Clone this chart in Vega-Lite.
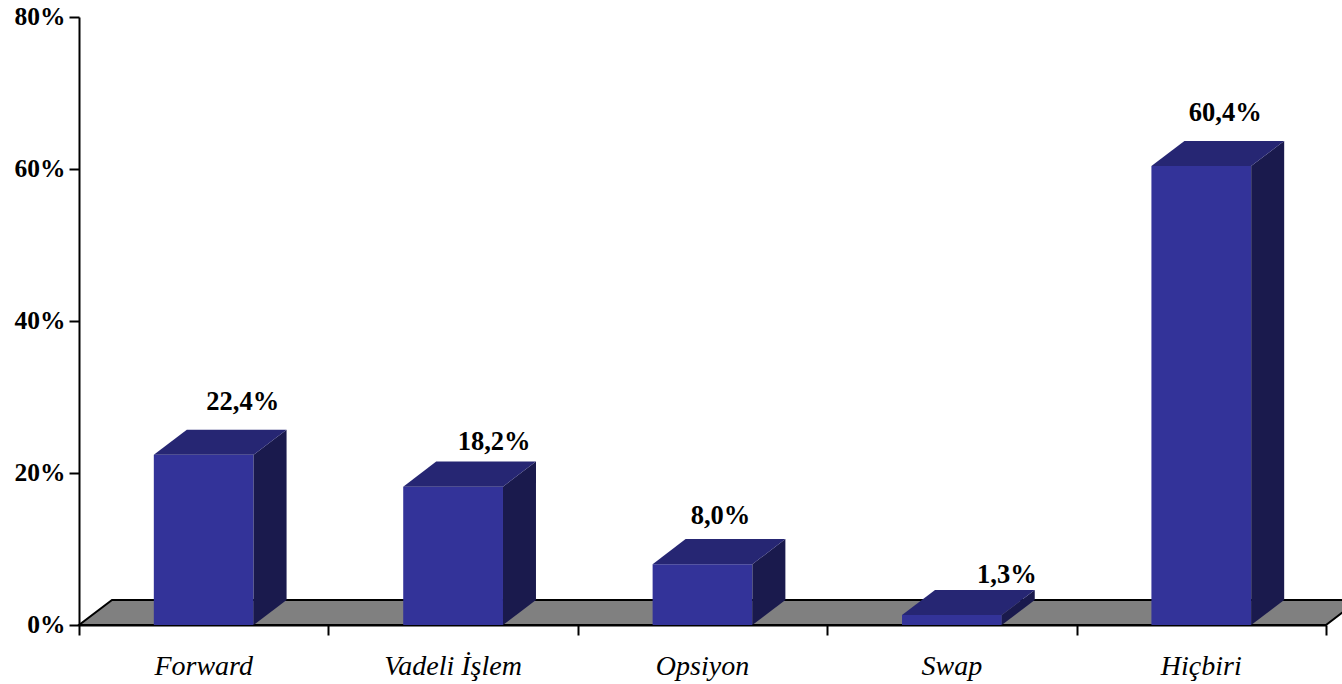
{
  "$schema": "https://vega.github.io/schema/vega-lite/v6.json",
  "autosize": "none",
  "padding": {"left": 79, "top": 17, "right": 16, "bottom": 59},
  "width": 1247,
  "height": 608,
  "background": "white",
  "datasets": {
    "bars": [
      {"category": "Forward", "value": 22.4},
      {"category": "Vadeli İşlem", "value": 18.2},
      {"category": "Opsiyon", "value": 8.0},
      {"category": "Swap", "value": 1.3},
      {"category": "Hiçbiri", "value": 60.4}
    ],
    "floor": [{"corner": 0}, {"corner": 1}, {"corner": 2}, {"corner": 3}]
  },
  "config": {"view": {"stroke": null}},
  "resolve": {"scale": {"x": "independent"}},
  "encoding": {
    "y": {
      "type": "quantitative",
      "scale": {"domain": [0, 80], "nice": false},
      "axis": {
        "title": null,
        "values": [0, 20, 40, 60, 80],
        "labelExpr": "datum.value + '%'",
        "grid": false,
        "domainColor": "black",
        "domainWidth": 2,
        "tickColor": "black",
        "tickWidth": 2,
        "tickSize": 10,
        "labelColor": "black",
        "labelFont": "Liberation Serif",
        "labelFontWeight": "bold",
        "labelFontSize": 25.5,
        "labelPadding": 4,
        "labelOffset": -1,
        "labelBound": false,
        "labelFlush": false
      }
    }
  },
  "layer": [
    {
      "data": {"name": "floor"},
      "transform": [
        {"calculate": "[0, 0.1323, 5, 5.1323][datum.corner]", "as": "px"},
        {"calculate": "datum.corner == 3 ? 3.3 : 0", "as": "low"},
        {"calculate": "datum.corner == 0 ? 0 : 3.3", "as": "high"}
      ],
      "mark": {"type": "area", "color": "#808080", "stroke": "black", "strokeWidth": 2, "clip": false},
      "encoding": {
        "x": {
          "field": "px",
          "type": "quantitative",
          "scale": {"domain": [0, 5], "nice": false, "zero": false},
          "axis": {
            "orient": "bottom",
            "title": null,
            "values": [0, 1, 2, 3, 4, 5],
            "labels": false,
            "grid": false,
            "domainColor": "black",
            "domainWidth": 2,
            "tickColor": "black",
            "tickWidth": 2,
            "tickSize": 10
          }
        },
        "y": {"field": "low", "type": "quantitative"},
        "y2": {"field": "high"}
      }
    },
    {
      "data": {"name": "bars"},
      "mark": {"type": "bar", "color": "#333399"},
      "encoding": {
        "x": {
          "field": "category",
          "type": "nominal",
          "sort": null,
          "scale": {"paddingInner": 0.6, "paddingOuter": 0.3},
          "axis": {
            "orient": "bottom",
            "title": null,
            "ticks": false,
            "domain": false,
            "labelAngle": 0,
            "labelColor": "black",
            "labelFont": "Liberation Serif",
            "labelFontStyle": "italic",
            "labelFontSize": 28,
            "labelPadding": 27
          }
        },
        "y": {"field": "value", "type": "quantitative"}
      }
    },
    {
      "data": {"name": "bars"},
      "transform": [
        {"calculate": "indexof(['Forward','Vadeli İşlem','Opsiyon','Swap','Hiçbiri'], datum.category)", "as": "i"},
        {"calculate": "[0, 1]", "as": "t"},
        {"flatten": ["t"]},
        {"calculate": "datum.i + 0.7 + datum.t * 0.1323", "as": "px"},
        {"calculate": "datum.t * 3.3", "as": "low"},
        {"calculate": "datum.value + datum.t * 3.3", "as": "high"}
      ],
      "mark": {"type": "area", "color": "#1a1a4d", "clip": false},
      "encoding": {
        "x": {"field": "px", "type": "quantitative", "scale": {"domain": [0, 5], "nice": false, "zero": false}, "axis": null},
        "y": {"field": "low", "type": "quantitative"},
        "y2": {"field": "high"},
        "detail": {"field": "category"}
      }
    },
    {
      "data": {"name": "bars"},
      "transform": [
        {"calculate": "indexof(['Forward','Vadeli İşlem','Opsiyon','Swap','Hiçbiri'], datum.category)", "as": "i"},
        {"calculate": "[0, 1, 2, 3]", "as": "c"},
        {"flatten": ["c"]},
        {"calculate": "datum.i + [0.3, 0.4323, 0.7, 0.8323][datum.c]", "as": "px"},
        {"calculate": "datum.value + (datum.c == 3 ? 3.3 : 0)", "as": "low"},
        {"calculate": "datum.value + (datum.c == 0 ? 0 : 3.3)", "as": "high"}
      ],
      "mark": {"type": "area", "color": "#262673", "clip": false},
      "encoding": {
        "x": {"field": "px", "type": "quantitative", "scale": {"domain": [0, 5], "nice": false, "zero": false}, "axis": null},
        "y": {"field": "low", "type": "quantitative"},
        "y2": {"field": "high"},
        "detail": {"field": "category"}
      }
    },
    {
      "data": {"name": "bars"},
      "transform": [
        {"filter": "datum.category == 'Forward'"},
        {"calculate": "replace(format(datum.value, '.1f'), '.', ',') + '%'", "as": "label"}
      ],
      "mark": {"type": "text", "font": "Liberation Serif", "fontWeight": "bold", "fontSize": 26.5, "color": "black", "dx": 39, "dy": -53},
      "encoding": {
        "x": {"field": "category", "type": "nominal", "scale": {"domain": ["Forward", "Vadeli İşlem", "Opsiyon", "Swap", "Hiçbiri"], "paddingInner": 0.6, "paddingOuter": 0.3}, "axis": null},
        "y": {"field": "value", "type": "quantitative"},
        "text": {"field": "label"}
      }
    },
    {
      "data": {"name": "bars"},
      "transform": [
        {"filter": "datum.category == 'Vadeli İşlem'"},
        {"calculate": "replace(format(datum.value, '.1f'), '.', ',') + '%'", "as": "label"}
      ],
      "mark": {"type": "text", "font": "Liberation Serif", "fontWeight": "bold", "fontSize": 26.5, "color": "black", "dx": 41, "dy": -45},
      "encoding": {
        "x": {"field": "category", "type": "nominal", "scale": {"domain": ["Forward", "Vadeli İşlem", "Opsiyon", "Swap", "Hiçbiri"], "paddingInner": 0.6, "paddingOuter": 0.3}, "axis": null},
        "y": {"field": "value", "type": "quantitative"},
        "text": {"field": "label"}
      }
    },
    {
      "data": {"name": "bars"},
      "transform": [
        {"filter": "datum.category == 'Opsiyon'"},
        {"calculate": "replace(format(datum.value, '.1f'), '.', ',') + '%'", "as": "label"}
      ],
      "mark": {"type": "text", "font": "Liberation Serif", "fontWeight": "bold", "fontSize": 26.5, "color": "black", "dx": 18, "dy": -48},
      "encoding": {
        "x": {"field": "category", "type": "nominal", "scale": {"domain": ["Forward", "Vadeli İşlem", "Opsiyon", "Swap", "Hiçbiri"], "paddingInner": 0.6, "paddingOuter": 0.3}, "axis": null},
        "y": {"field": "value", "type": "quantitative"},
        "text": {"field": "label"}
      }
    },
    {
      "data": {"name": "bars"},
      "transform": [
        {"filter": "datum.category == 'Swap'"},
        {"calculate": "replace(format(datum.value, '.1f'), '.', ',') + '%'", "as": "label"}
      ],
      "mark": {"type": "text", "font": "Liberation Serif", "fontWeight": "bold", "fontSize": 26.5, "color": "black", "dx": 55, "dy": -40},
      "encoding": {
        "x": {"field": "category", "type": "nominal", "scale": {"domain": ["Forward", "Vadeli İşlem", "Opsiyon", "Swap", "Hiçbiri"], "paddingInner": 0.6, "paddingOuter": 0.3}, "axis": null},
        "y": {"field": "value", "type": "quantitative"},
        "text": {"field": "label"}
      }
    },
    {
      "data": {"name": "bars"},
      "transform": [
        {"filter": "datum.category == 'Hiçbiri'"},
        {"calculate": "replace(format(datum.value, '.1f'), '.', ',') + '%'", "as": "label"}
      ],
      "mark": {"type": "text", "font": "Liberation Serif", "fontWeight": "bold", "fontSize": 26.5, "color": "black", "dx": 24, "dy": -53},
      "encoding": {
        "x": {"field": "category", "type": "nominal", "scale": {"domain": ["Forward", "Vadeli İşlem", "Opsiyon", "Swap", "Hiçbiri"], "paddingInner": 0.6, "paddingOuter": 0.3}, "axis": null},
        "y": {"field": "value", "type": "quantitative"},
        "text": {"field": "label"}
      }
    }
  ]
}
